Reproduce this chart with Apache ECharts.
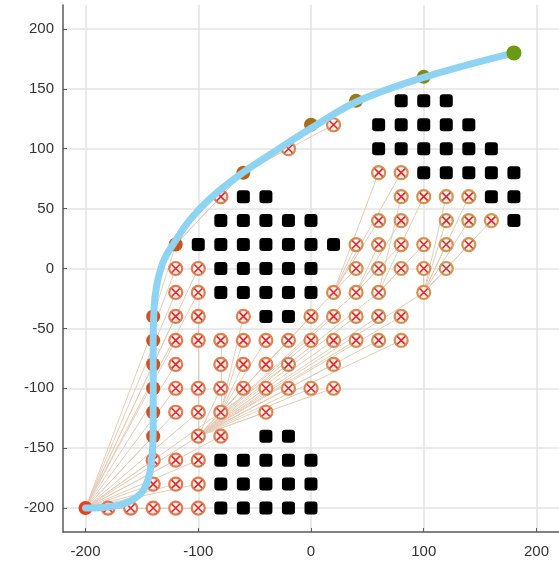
<!DOCTYPE html>
<html>
<head>
<meta charset="utf-8">
<script src="https://cdn.jsdelivr.net/npm/echarts@6/dist/echarts.min.js"></script>
<style>
  html, body { margin: 0; padding: 0; background: #fff; }
  #chart { width: 559px; height: 566px; }
</style>
</head>
<body>
<div id="chart"></div>
<script>
// Axis tick labels
const xTicks = [-200, -100, 0, 100, 200];
const yTicks = [-200, -150, -100, -50, 0, 50, 100, 150, 200];

// Obstacle cells
const obstacles = [
  [80, 140], [100, 140], [120, 140],
  [60, 120], [80, 120], [100, 120], [120, 120], [140, 120],
  [60, 100], [80, 100], [100, 100], [120, 100], [140, 100], [160, 100],
  [100, 80], [120, 80], [140, 80], [160, 80], [180, 80],
  [-60, 60], [-40, 60], [160, 60], [180, 60],
  [-80, 40], [-60, 40], [-40, 40], [-20, 40], [0, 40], [180, 40],
  [-100, 20], [-80, 20], [-60, 20], [-40, 20], [-20, 20], [0, 20], [20, 20],
  [-80, 0], [-60, 0], [-40, 0], [-20, 0], [0, 0],
  [-80, -20], [-60, -20], [-40, -20], [-20, -20], [0, -20],
  [-40, -40], [-20, -40],
  [-40, -140], [-20, -140],
  [-80, -160], [-60, -160], [-40, -160], [-20, -160], [0, -160],
  [-80, -180], [-60, -180], [-40, -180], [-20, -180], [0, -180],
  [-80, -200], [-60, -200], [-40, -200], [-20, -200], [0, -200]
];

// Explored nodes of the search tree
const treeNodes = [
  [20, 120], [-20, 100],
  [60, 80], [80, 80],
  [-80, 60], [80, 60], [100, 60], [120, 60], [140, 60],
  [60, 40], [80, 40], [120, 40], [140, 40], [160, 40],
  [40, 20], [60, 20], [80, 20], [100, 20], [120, 20], [140, 20],
  [-120, 0], [-100, 0], [40, 0], [60, 0], [80, 0], [100, 0], [120, 0],
  [-120, -20], [-100, -20], [20, -20], [40, -20], [60, -20], [100, -20],
  [-120, -40], [-100, -40], [-60, -40], [0, -40], [20, -40], [40, -40], [60, -40], [80, -40],
  [-120, -60], [-100, -60], [-80, -60], [-60, -60], [-40, -60], [-20, -60], [0, -60], [20, -60], [40, -60], [60, -60], [80, -60],
  [-120, -80], [-80, -80], [-60, -80], [-40, -80], [-20, -80], [20, -80],
  [-120, -100], [-100, -100], [-80, -100], [-60, -100], [-40, -100], [-20, -100], [0, -100], [20, -100],
  [-120, -120], [-100, -120], [-80, -120], [-40, -120],
  [-100, -140], [-80, -140],
  [-140, -160], [-120, -160], [-100, -160],
  [-140, -180], [-120, -180], [-100, -180],
  [-180, -200], [-160, -200], [-140, -200], [-120, -200], [-100, -200]
];

// Parent -> child links of the search tree
const treeEdges = [
  [[-200, -200], [-100, -200]],
  [[-200, -200], [-140, -180]], [[-200, -200], [-120, -180]], [[-200, -200], [-100, -180]],
  [[-200, -200], [-140, -160]], [[-200, -200], [-120, -160]], [[-200, -200], [-100, -160]],
  [[-200, -200], [-140, -140]], [[-200, -200], [-100, -140]], [[-200, -200], [-80, -140]],
  [[-200, -200], [-120, -120]], [[-200, -200], [-100, -120]], [[-200, -200], [-80, -120]],
  [[-200, -200], [-120, -100]], [[-200, -200], [-120, -80]], [[-200, -200], [-120, -60]],
  [[-200, -200], [-120, -40]], [[-200, -200], [-120, -20]], [[-200, -200], [-120, 0]],
  [[-200, -200], [-100, -20]], [[-200, -200], [-100, 0]],
  [[-140, -140], [-140, -120]], [[-140, -120], [-140, -100]], [[-140, -100], [-140, -80]],
  [[-140, -80], [-140, -60]], [[-140, -60], [-140, -40]], [[-140, -40], [-120, 20]],
  [[-120, 20], [-60, 80]], [[-60, 80], [0, 120]], [[0, 120], [40, 140]], [[40, 140], [100, 160]],
  [[100, 160], [180, 180]],
  [[-120, 20], [-80, 60]],
  [[-60, 80], [-20, 100]], [[-60, 80], [20, 120]],
  [[-100, -140], [-100, -100]], [[-100, -140], [-80, -100]], [[-100, -140], [-60, -100]],
  [[-100, -140], [-40, -100]], [[-100, -140], [-20, -100]], [[-100, -140], [0, -100]], [[-100, -140], [20, -100]],
  [[-100, -140], [-40, -120]], [[-100, -140], [20, -80]],
  [[-100, -140], [0, -60]], [[-100, -140], [20, -60]], [[-100, -140], [40, -60]], [[-100, -140], [60, -60]], [[-100, -140], [80, -60]],
  [[-100, -140], [-100, -60]], [[-100, -140], [-100, -40]],
  [[-80, -120], [-80, -80]], [[-80, -120], [-60, -80]], [[-80, -120], [-40, -80]], [[-80, -120], [-20, -80]],
  [[-80, -120], [-80, -60]], [[-80, -120], [-60, -60]], [[-80, -120], [-40, -60]], [[-80, -120], [-20, -60]],
  [[-80, -120], [-60, -40]],
  [[-100, -140], [0, -40]], [[-100, -140], [20, -40]], [[-100, -140], [40, -40]], [[-100, -140], [60, -40]], [[-100, -140], [80, -40]],
  [[-100, -140], [20, -20]], [[-100, -140], [40, -20]], [[-100, -140], [60, -20]], [[-100, -140], [100, -20]],
  [[20, -20], [40, 0]], [[20, -20], [40, 20]], [[20, -20], [60, 80]], [[20, -20], [80, 80]], [[20, -20], [60, 40]],
  [[40, -20], [60, 0]], [[40, -20], [60, 20]], [[40, -20], [80, 40]], [[40, -20], [80, 20]],
  [[60, -20], [80, 0]], [[60, -20], [100, 20]], [[60, -20], [100, 60]], [[60, -20], [80, 60]],
  [[100, -20], [100, 0]], [[100, -20], [120, 0]], [[100, -20], [120, 20]], [[100, -20], [140, 20]],
  [[100, -20], [120, 40]], [[100, -20], [140, 40]], [[100, -20], [160, 40]], [[100, -20], [120, 60]], [[100, -20], [140, 60]]
];

// Nodes of the final route, start to goal
const pathNodes = [
  [-200, -200], [-140, -140], [-140, -120], [-140, -100], [-140, -80], [-140, -60], [-140, -40],
  [-120, 20], [-60, 80], [0, 120], [40, 140], [100, 160], [180, 180]
];

// Smoothed route
const smoothPath = [
  [-200, -200], [-185, -199.5], [-170, -197.5], [-160, -194], [-151, -188], [-146, -180],
  [-142.5, -168], [-140.5, -150], [-140, -130], [-140, -100], [-140, -60], [-139.5, -40],
  [-138.5, -25], [-135.5, -8], [-130, 8], [-121, 22], [-108, 40], [-90, 58],
  [-62, 79], [-30, 99], [0, 117], [40, 139], [100, 159.5], [180, 180]
];

// Colour ramp along x: red on the start side, green on the goal side
function ramp(x, c0, c1) {
  const t = Math.max(0, Math.min(1, (x + 200) / 380));
  const c = c0.map((v, i) => Math.round(v + (c1[i] - v) * t));
  return 'rgb(' + c.join(',') + ')';
}
const NODE_LO = [232, 62, 28], NODE_HI = [106, 156, 18];
const RING_LO = [232, 112, 80], RING_HI = [200, 158, 88];

const chart = echarts.init(document.getElementById('chart'), null, { renderer: 'canvas' });

const labelFont = { fontFamily: 'Liberation Sans, Arial, sans-serif', fontSize: 15, color: '#333' };

chart.setOption({
  animation: false,
  grid: { left: 63, top: 5, right: -5, bottom: 34, containLabel: false },
  xAxis: {
    type: 'value', min: -220, max: 220, splitNumber: 5,
    axisLine: { show: true, onZero: false, lineStyle: { color: '#5a5a5a', width: 1.5 } },
    axisTick: { show: true, inside: true, length: 4, lineStyle: { color: '#5a5a5a' } },
    axisLabel: Object.assign({ margin: 12, showMinLabel: false, showMaxLabel: false,
      formatter: v => xTicks.includes(v) ? String(v) : '' }, labelFont),
    splitLine: { show: true, showMinLine: false, showMaxLine: false, lineStyle: { color: '#e3e3e3', width: 1.5 } }
  },
  yAxis: {
    type: 'value', min: -220, max: 220, splitNumber: 9,
    axisLine: { show: true, onZero: false, lineStyle: { color: '#5a5a5a', width: 1.5 } },
    axisTick: { show: true, inside: true, length: 4, lineStyle: { color: '#5a5a5a' } },
    axisLabel: Object.assign({ margin: 9, showMinLabel: false, showMaxLabel: false,
      formatter: v => yTicks.includes(v) ? String(v) : '' }, labelFont),
    splitLine: { show: true, showMinLine: false, showMaxLine: false, lineStyle: { color: '#e3e3e3', width: 1.5 } }
  },
  series: [
    {
      name: 'edges', type: 'lines', coordinateSystem: 'cartesian2d', silent: true, z: 1,
      lineStyle: { color: '#e4cdb8', width: 1, opacity: 1 },
      data: treeEdges.map(e => ({ coords: e }))
    },
    {
      name: 'obstacles', type: 'scatter', symbol: 'roundRect', symbolSize: 13, z: 2,
      itemStyle: { color: '#000', opacity: 1 },
      data: obstacles
    },
    {
      name: 'tree', type: 'scatter', symbol: 'circle', symbolSize: 13, z: 3,
      data: treeNodes.map(p => ({ value: p, itemStyle: { color: '#fdf1ea', opacity: 1, borderColor: ramp(p[0], RING_LO, RING_HI), borderWidth: 2.2 } }))
    },
    {
      name: 'treeMark', type: 'scatter', symbol: 'path://M0,0L10,10M10,0L0,10', symbolSize: 8, z: 4,
      itemStyle: { color: 'rgba(0,0,0,0)', opacity: 1, borderColor: '#e0282a', borderWidth: 1.6 },
      data: treeNodes
    },
    {
      name: 'route', type: 'scatter', symbol: 'circle', symbolSize: 14, z: 5,
      data: pathNodes.slice(0, -1).map(p => ({ value: p, itemStyle: { opacity: 1, color: ramp(p[0], NODE_LO, NODE_HI) } }))
    },
    {
      name: 'smooth', type: 'line', smooth: 0.35, symbol: 'none', z: 6,
      lineStyle: { color: '#8fd3f3', width: 7, cap: 'round' },
      data: smoothPath
    },
    {
      name: 'goal', type: 'scatter', symbol: 'circle', symbolSize: 15, z: 7,
      itemStyle: { opacity: 1, color: ramp(180, NODE_LO, NODE_HI) },
      data: pathNodes.slice(-1)
    }
  ]
});
</script>
</body>
</html>
